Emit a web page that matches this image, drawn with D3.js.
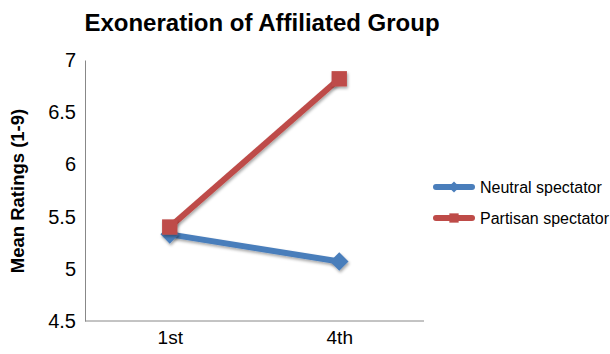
<!DOCTYPE html>
<html>
<head>
<meta charset="utf-8">
<script src="https://cdn.jsdelivr.net/npm/d3@7"></script>
<style>
  body { margin: 0; background: #fff; }
  svg { font-family: "Liberation Sans", Arial, Helvetica, sans-serif; }
</style>
</head>
<body>
<div id="chart"></div>
<script>
// data
var rounds = ["1st", "4th"];
var neutral = [5.33, 5.07];
var partisan = [5.40, 6.82];
var yTicks = [4.5, 5, 5.5, 6, 6.5, 7];

var series = [
  { name: "Neutral spectator", values: neutral, color: "#4a7ebb", shape: "diamond" },
  { name: "Partisan spectator", values: partisan, color: "#be4b48", shape: "square" }
];

var width = 610, height = 354;
var plotLeft = 85, plotRight = 424, plotTop = 60, plotBottom = 321;

var svg = d3.select("#chart").append("svg")
  .attr("width", width)
  .attr("height", height);

var defs = svg.append("defs");
var shadow = defs.append("filter").attr("id", "shadow")
  .attr("x", "-50%").attr("y", "-50%").attr("width", "200%").attr("height", "200%");
shadow.append("feDropShadow")
  .attr("dx", 1).attr("dy", 2).attr("stdDeviation", 1.5)
  .attr("flood-color", "#000").attr("flood-opacity", 0.35);

var x = d3.scalePoint().domain(rounds).range([plotLeft, plotRight]).padding(0.5);
var y = d3.scaleLinear().domain([4.5, 7]).range([plotBottom, plotTop]);

// title
svg.append("text")
  .attr("x", 262).attr("y", 31)
  .attr("text-anchor", "middle")
  .style("font-size", "24px").style("font-weight", "bold")
  .text("Exoneration of Affiliated Group");

// y axis
var yAxis = svg.append("g")
  .attr("transform", "translate(" + plotLeft + ",0)")
  .call(d3.axisLeft(y).tickValues(yTicks).tickSize(0).tickPadding(9).tickFormat(d3.format("")));
yAxis.select(".domain").attr("stroke", "#888");
yAxis.selectAll("text").style("font-size", "20px").attr("fill", "#000");

// x axis
var xAxis = svg.append("g")
  .attr("transform", "translate(0," + plotBottom + ")")
  .call(d3.axisBottom(x).tickSize(0).tickPadding(10));
xAxis.select(".domain").attr("stroke", "#888").attr("d", "M" + plotLeft + ",0H" + plotRight);
xAxis.selectAll("text").style("font-size", "19px").attr("fill", "#000");

// y axis title
svg.append("text")
  .attr("transform", "translate(24," + 191 + ") rotate(-90)")
  .attr("text-anchor", "middle")
  .style("font-size", "18.5px").style("font-weight", "bold")
  .text("Mean Ratings (1-9)");

var line = d3.line()
  .x(function(d, i) { return x(rounds[i]); })
  .y(function(d) { return y(d); });

var symbolFor = function(shape, size) {
  return d3.symbol().type(shape === "diamond" ? d3.symbolDiamond2 : d3.symbolSquare2).size(size)();
};

series.forEach(function(s) {
  svg.append("path")
    .datum(s.values)
    .attr("d", line)
    .attr("fill", "none")
    .attr("stroke", s.color)
    .attr("stroke-width", 6)
    .attr("filter", "url(#shadow)");

  svg.selectAll(".pt-" + s.shape)
    .data(s.values).enter()
    .append("path")
    .attr("class", "pt-" + s.shape)
    .attr("transform", function(d, i) { return "translate(" + x(rounds[i]) + "," + y(d) + ")"; })
    .attr("d", symbolFor(s.shape, s.shape === "diamond" ? 220 : 300))
    .attr("fill", s.color)
    .attr("stroke", "none")
    .attr("filter", "url(#shadow)");
});

// legend
var legend = svg.append("g");
series.forEach(function(s, i) {
  var ly = 187 + i * 31;
  legend.append("line")
    .attr("x1", 436).attr("x2", 472)
    .attr("y1", ly).attr("y2", ly)
    .attr("stroke", s.color).attr("stroke-width", 6).attr("stroke-linecap", "round");
  legend.append("path")
    .attr("transform", "translate(454," + ly + ")")
    .attr("d", symbolFor(s.shape, s.shape === "diamond" ? 80 : 110))
    .attr("fill", s.color);
  legend.append("text")
    .attr("x", 480).attr("y", ly + 6)
    .style("font-size", "16px")
    .text(s.name);
});
</script>
</body>
</html>
